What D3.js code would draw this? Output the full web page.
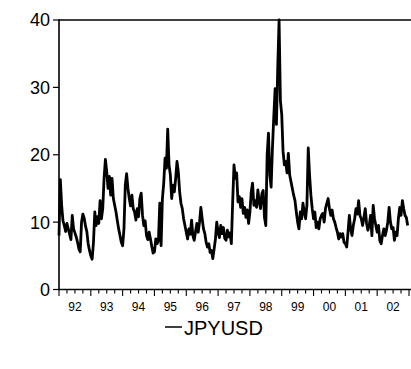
<html>
<head>
<meta charset="utf-8">
<script src="https://d3js.org/d3.v7.min.js"></script>
<style>
  body { margin: 0; background: #fff; overflow: hidden; }
  svg { display: block; }
  text { font-family: "Liberation Sans", Arial, sans-serif; fill: #000; }
</style>
</head>
<body>
<script>
// valores, 24 amostras por ano (quinzenal)
var years = [1992, 1993, 1994, 1995, 1996, 1997, 1998, 1999, 2000, 2001, 2002];
var yearLabels = ["92", "93", "94", "95", "96", "97", "98", "99", "00", "01", "02"];
var yTicks = [0, 10, 20, 30, 40];
var seriesName = "JPYUSD";

var v92 = [8.0, 16.3, 12.5, 10.2, 9.5, 8.6, 9.8, 9.0, 8.2, 7.4, 11.0, 9.0, 8.4, 7.8, 7.0, 6.0, 5.6, 10.0, 11.2, 10.6, 9.4, 8.6, 6.8, 5.8];
var v93 = [5.0, 4.5, 7.0, 11.5, 9.5, 10.8, 9.8, 13.2, 10.5, 12.0, 16.5, 19.3, 17.5, 15.0, 16.8, 14.0, 16.5, 13.5, 12.5, 11.5, 10.2, 9.0, 8.0, 7.0];
var v94 = [6.5, 9.0, 15.5, 17.2, 15.0, 13.5, 12.4, 14.0, 12.0, 11.5, 10.3, 12.0, 10.8, 13.5, 14.3, 11.0, 9.5, 10.2, 8.0, 7.4, 8.5, 7.5, 6.4, 5.4];
var v95 = [5.6, 7.5, 6.8, 7.2, 12.8, 6.5, 13.5, 15.8, 19.5, 18.0, 23.8, 18.5, 17.0, 13.5, 15.5, 14.5, 16.5, 19.0, 17.5, 14.5, 12.8, 12.0, 10.5, 9.5];
var v96 = [8.5, 7.5, 9.0, 8.2, 10.3, 8.0, 7.3, 8.6, 9.8, 8.5, 10.0, 12.2, 10.5, 9.0, 8.3, 7.0, 6.3, 6.8, 5.5, 5.8, 4.6, 6.0, 7.5, 10.0];
var v97 = [8.5, 7.7, 9.5, 8.3, 9.2, 7.6, 7.3, 8.8, 7.8, 8.4, 6.8, 13.0, 18.5, 16.5, 17.3, 13.0, 13.8, 12.2, 13.5, 11.3, 12.2, 10.7, 11.8, 9.8];
var v98 = [11.5, 14.5, 15.8, 12.5, 13.2, 12.2, 14.8, 13.0, 12.0, 14.2, 14.7, 10.7, 9.5, 20.0, 23.2, 17.0, 15.2, 21.0, 25.6, 29.8, 24.5, 33.0, 40.0, 28.0];
var v99 = [26.0, 20.5, 18.5, 19.0, 17.3, 20.2, 17.0, 16.0, 15.0, 14.0, 13.2, 11.5, 10.0, 9.0, 11.5, 10.5, 12.8, 11.5, 10.5, 12.5, 21.0, 17.0, 14.0, 12.0];
var v00 = [10.5, 11.5, 9.2, 10.0, 9.0, 10.5, 11.0, 11.3, 10.0, 12.0, 12.8, 13.5, 12.0, 11.0, 11.8, 10.5, 10.0, 9.2, 8.5, 7.5, 8.3, 7.8, 8.3, 7.0];
var v01 = [6.8, 6.3, 8.5, 11.0, 9.0, 8.0, 9.5, 10.5, 12.0, 11.2, 13.2, 11.0, 10.5, 9.5, 10.7, 12.0, 9.8, 8.8, 9.5, 11.0, 8.0, 12.5, 10.5, 9.5];
var v02 = [8.5, 9.5, 7.2, 6.8, 8.0, 9.0, 8.0, 8.8, 10.0, 12.2, 10.0, 9.0, 9.2, 7.3, 8.5, 8.0, 10.5, 12.2, 11.0, 13.2, 12.0, 11.0, 10.7, 9.5];

var byYear = [v92, v93, v94, v95, v96, v97, v98, v99, v00, v01, v02];
var data = [];
byYear.forEach(function(vals, k){
	vals.forEach(function(v, i){
		data.push({t: years[k] + i / vals.length, v: v});
	});
});

var W = 411, H = 369;
var plot = {left: 59, top: 20, right: W, bottom: 289.5};

var svg = d3.select("body").append("svg")
	.attr("width", W).attr("height", H);

var x = d3.scaleLinear().domain([1992, 2003]).range([plot.left, 409]);
var y = d3.scaleLinear().domain([0, 40]).range([plot.bottom, plot.top]);

// linha da série
svg.append("path")
	.datum(data)
	.attr("fill", "none")
	.attr("stroke", "#000")
	.attr("stroke-width", 2.8)
	.attr("stroke-linejoin", "round")
	.attr("d", d3.line().x(d => x(d.t)).y(d => y(d.v)));

// moldura (o lado direito fica fora da imagem)
var frame = svg.append("g").attr("stroke", "#000").attr("stroke-width", 1.6);
frame.append("line").attr("x1", plot.left).attr("x2", plot.right).attr("y1", plot.top).attr("y2", plot.top);
frame.append("line").attr("x1", plot.left).attr("x2", plot.right).attr("y1", plot.bottom).attr("y2", plot.bottom);
frame.append("line").attr("x1", plot.left).attr("x2", plot.left).attr("y1", plot.top - 0.8).attr("y2", plot.bottom + 0.8);

// eixo y
var yAxis = svg.append("g");
yAxis.selectAll("line").data(yTicks).join("line")
	.attr("x1", plot.left - 6).attr("x2", plot.left)
	.attr("y1", d => y(d)).attr("y2", d => y(d))
	.attr("stroke", "#000").attr("stroke-width", 1.2);
yAxis.selectAll("text").data(yTicks).join("text")
	.attr("x", plot.left - 9).attr("y", d => y(d))
	.attr("dy", "0.36em")
	.attr("text-anchor", "end")
	.attr("font-size", 18)
	.text(d => d);

// eixo x: trimestres
var quarters = d3.range(1992, 2003.01, 0.25);
svg.append("g").selectAll("line").data(quarters).join("line")
	.attr("x1", d => x(d)).attr("x2", d => x(d))
	.attr("y1", plot.bottom)
	.attr("y2", d => plot.bottom + (Math.abs(d - Math.round(d)) < 0.01 ? 6.5 : 4))
	.attr("stroke", "#000").attr("stroke-width", 1.1);

svg.append("g").selectAll("text").data(years).join("text")
	.attr("x", d => x(d + 0.5)).attr("y", 310.5)
	.attr("text-anchor", "middle")
	.attr("font-size", 12)
	.text((d, i) => yearLabels[i]);

// legenda
var lg = svg.append("g");
lg.append("line")
	.attr("x1", 165).attr("x2", 182).attr("y1", 327).attr("y2", 327)
	.attr("stroke", "#000").attr("stroke-width", 1.5);
lg.append("text")
	.attr("x", 184).attr("y", 334.5)
	.attr("font-size", 20)
	.text(seriesName);
</script>
</body>
</html>
